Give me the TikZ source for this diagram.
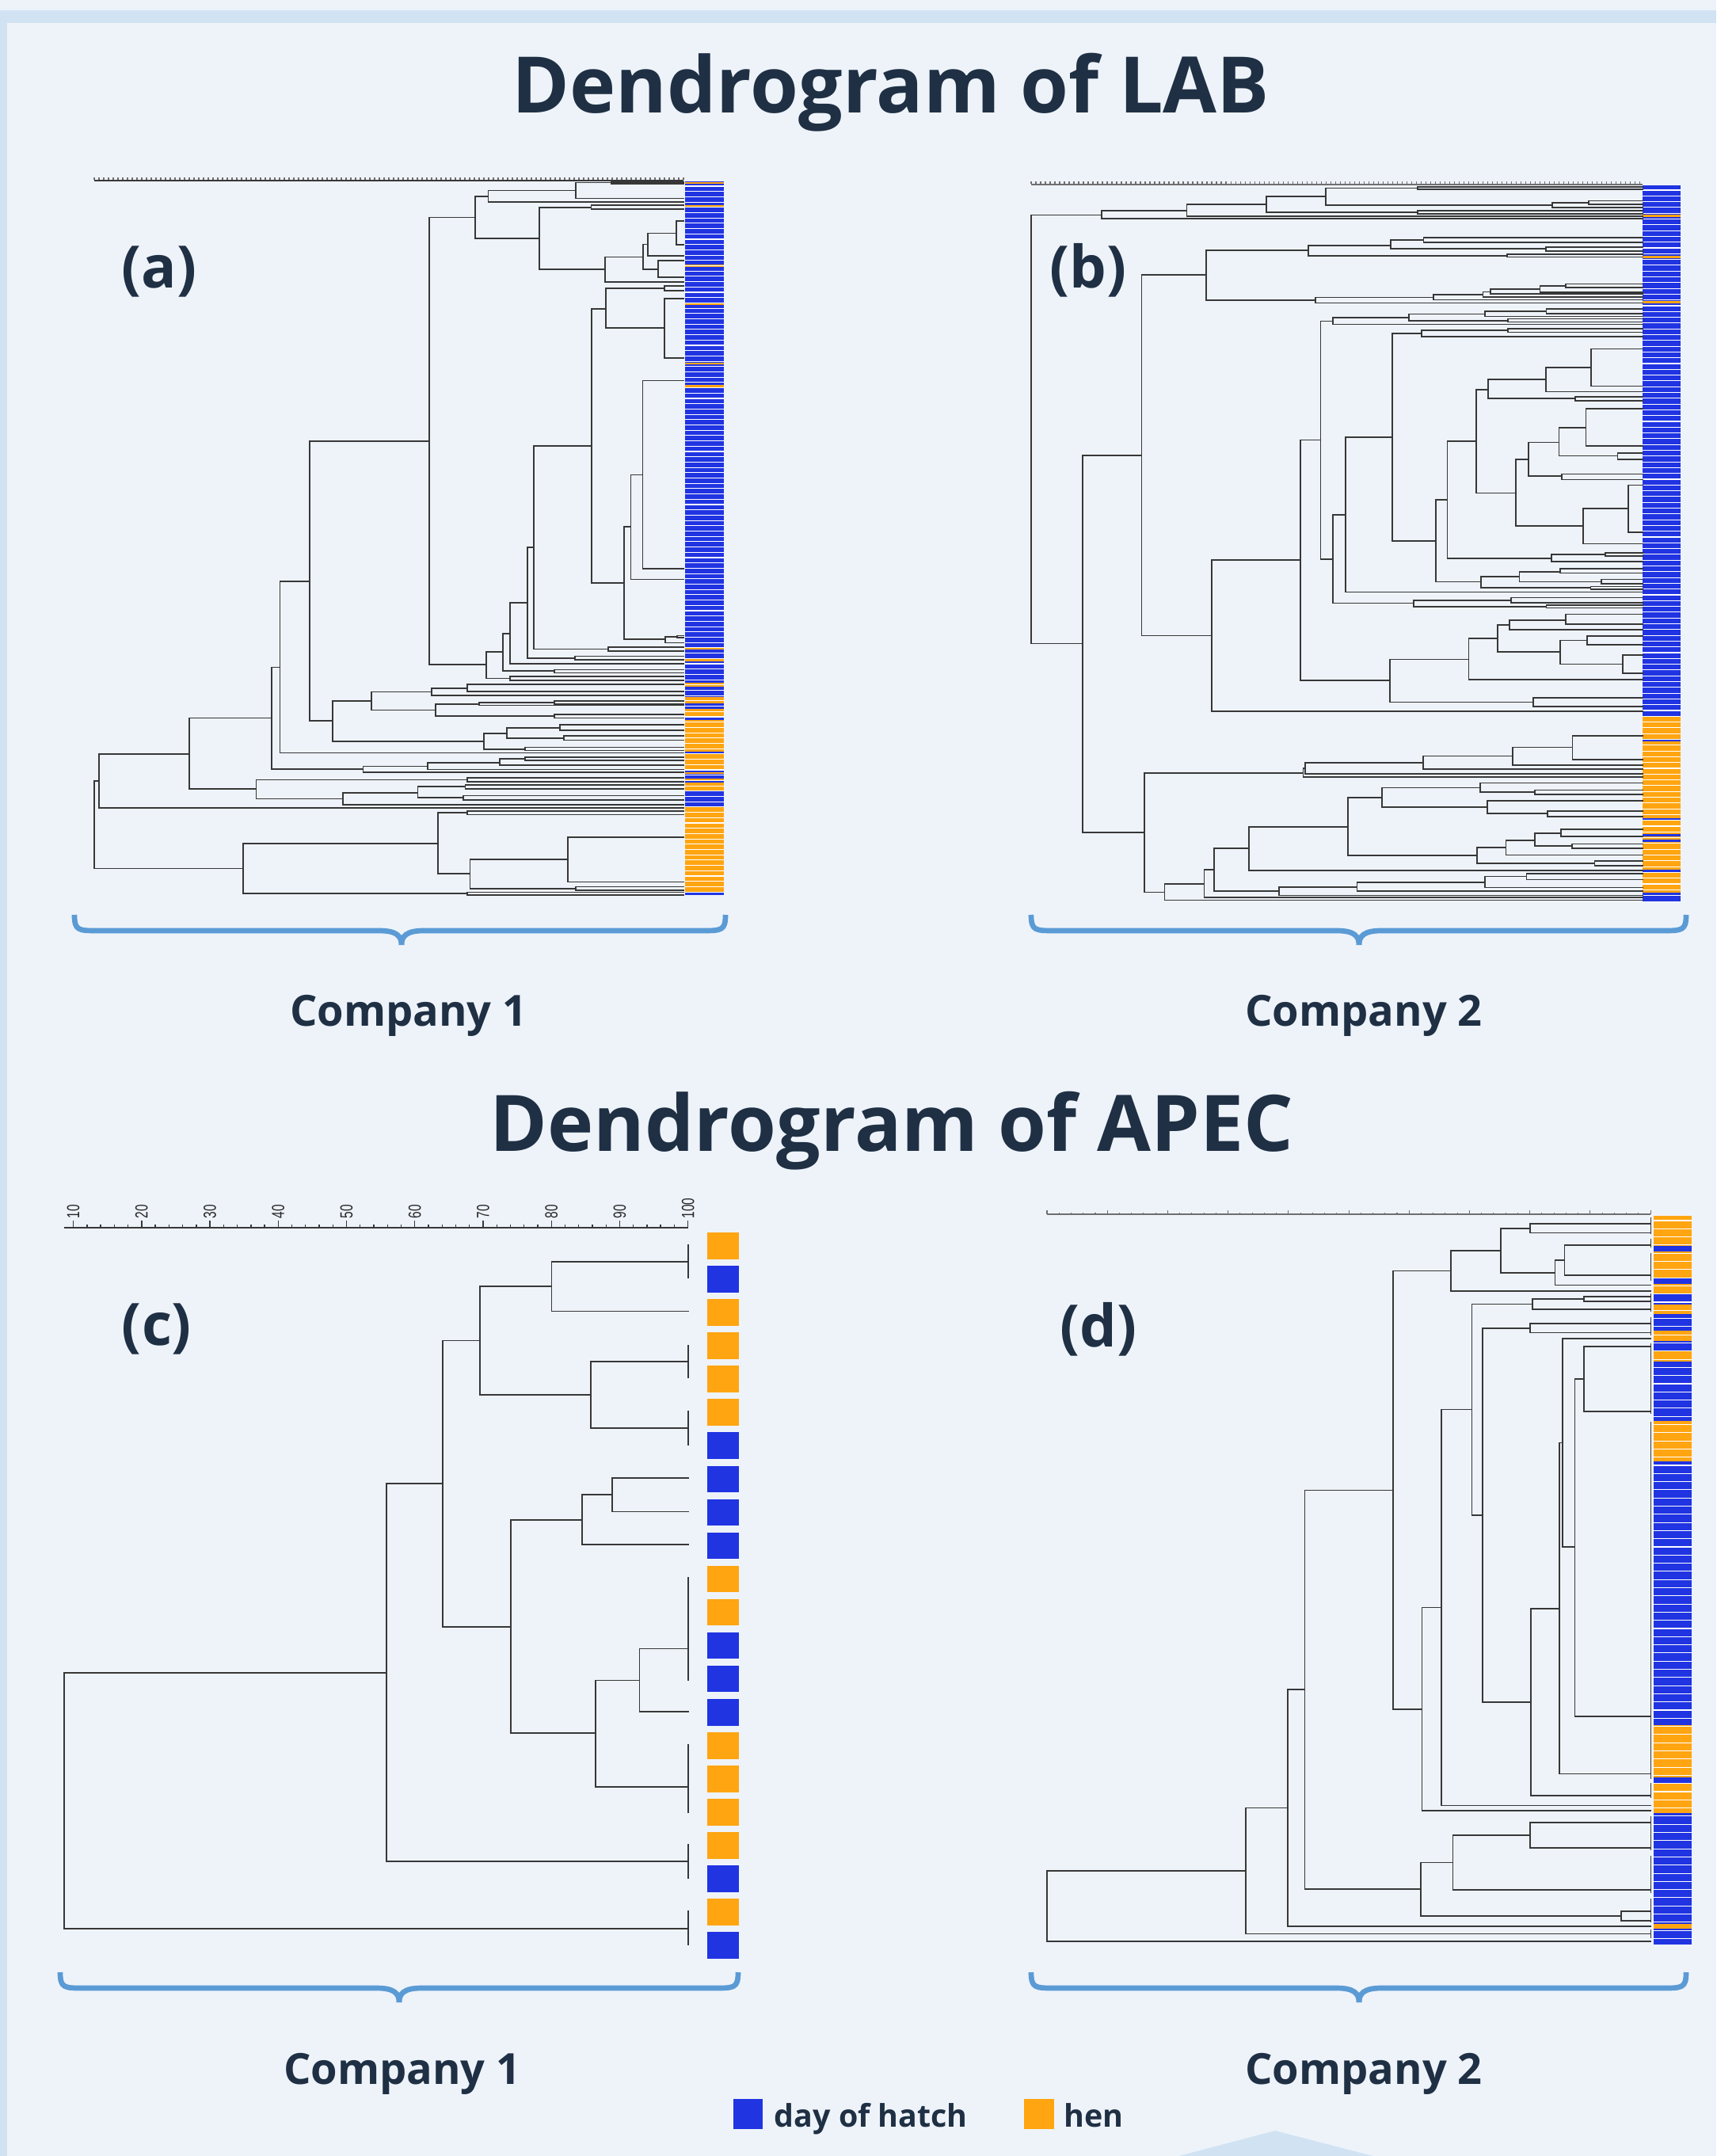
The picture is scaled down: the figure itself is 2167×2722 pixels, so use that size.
\documentclass[tikz,border=0pt]{standalone}
\usepackage{graphicx}
\usepackage{fontspec}
\setmainfont{Open Sans}
\newfontfamily\axisfont{Liberation Sans}
\definecolor{pagebg}{RGB}{238,243,250}
\definecolor{bandbg}{RGB}{209,227,243}
\definecolor{inkdark}{RGB}{31,48,68}
\definecolor{hatchblue}{RGB}{32,52,226}
\definecolor{henorange}{RGB}{255,165,17}
\definecolor{bracecol}{RGB}{91,155,213}
\definecolor{treeline}{RGB}{55,55,55}
\definecolor{axisgray}{RGB}{110,110,110}
\tikzset{
  dendro/.style={line width=0.5pt, draw=treeline, line cap=rect},
  axisline/.style={line width=0.6pt, draw=treeline},
  axtick/.style={line width=0.3pt, draw=axisgray},
  sep/.style={draw=white, line width=0.3pt},
  bracestyle/.style={draw=bracecol, line width=1.9pt},
  titletext/.style={font=\fontsize{28}{34}\selectfont\bfseries, text=inkdark, inner sep=0pt},
  paneltext/.style={font=\fontsize{21}{25}\selectfont\bfseries, text=inkdark, inner sep=0pt},
  companytext/.style={font=\fontsize{15.4}{18}\selectfont\bfseries, text=inkdark, inner sep=0pt},
  legendtext/.style={font=\fontsize{11.2}{13}\selectfont\bfseries, text=inkdark, inner sep=0pt},
  ticklabel/.style={font=\axisfont\fontsize{6.3}{7}\selectfont, text=black!85, inner sep=0pt},
}
\begin{document}
\begin{tikzpicture}[x=0.01cm, y=-0.01cm]
\useasboundingbox (0,0) rectangle (2167,2722);
% page background and frame bands
\fill[pagebg] (0,0) rectangle (2167,2722);
\fill[bandbg] (0,13) rectangle (2167,29);
\fill[bandbg] (0,13) rectangle (9,2722);
\fill[bandbg] (1488,2722) -- (1610,2690) -- (1734,2722) -- cycle;

% headings
\node[titletext, anchor=base] (titlelab) at (1125,143) {Dendrogram of LAB};
\node[titletext, anchor=base] (titleapec) at (1126,1453) {Dendrogram of APEC};
\node[paneltext, anchor=base] (pa) at (201,364) {(a)};
\node[paneltext, anchor=base] (pb) at (1374,364) {(b)};
\node[paneltext, anchor=base] (pc) at (198,1698) {(c)};
\node[paneltext, anchor=base] (pd) at (1387,1700) {(d)};
\node[companytext, anchor=base] (ca1) at (516,1295) {Company 1};
\node[companytext, anchor=base] (ca2) at (1722,1295) {Company 2};
\node[companytext, anchor=base] (cb1) at (508,2631) {Company 1};
\node[companytext, anchor=base] (cb2) at (1722,2631) {Company 2};

% legend
\fill[hatchblue] (926,2650) rectangle (963,2688);
\node[legendtext, anchor=base west] (lgday) at (977,2685) {day of hatch};
\fill[henorange] (1293,2650) rectangle (1331,2688);
\node[legendtext, anchor=base west] (lghen) at (1343,2685) {hen};

% braces under the panels
\foreach \L/\M/\R/\T in {94/507/916/1155, 1302/1716/2129/1155, 76/504/932/2490, 1302/1716/2129/2490}{
  \draw[bracestyle] (\L,\T) .. controls (\L,{\T+20}) and ({\L+5},{\T+20}) .. ({\L+30},{\T+20})
     -- ({\M-28},{\T+20}) .. controls ({\M-6},{\T+20}) and (\M,{\T+27}) .. (\M,{\T+38});
  \draw[bracestyle] (\R,\T) .. controls (\R,{\T+20}) and ({\R-5},{\T+20}) .. ({\R-30},{\T+20})
     -- ({\M+28},{\T+20}) .. controls ({\M+6},{\T+20}) and (\M,{\T+27}) .. (\M,{\T+38});
}

% ---------- panel (a): LAB, company 1 ----------
\draw[axisline] (119,228) -- (863,228);
\foreach \i in {0,...,124} \draw[axtick] ({119+6*\i},227) -- ++(0,-2.5);
\fill[hatchblue] (865,229) rectangle (914,1130);
\foreach \a/\b in {230/232, 259/262, 334.5/337, 382.5/385, 458/460.5, 486.5/489, 817.5/820, 832/835,
  862/867, 880/888, 895/906, 909/949, 952/973, 975/977, 983/985, 988/999, 1019/1127}
  \fill[henorange] (865,\a) rectangle (914,\b);
\foreach \y in {235,241.7,...,1128} \draw[sep] (865,\y) -- (914,\y);
\begin{scope}[shift={(100,220)}, xscale=0.5357, yscale=0.5867]
\foreach \y/\a/\b in {17/1255/1425, 20/1255/1425, 18/1171/1255, 52/1171/1425, 35/964/1171, 60/964/1425, 48/934/964,
 67/1207/1425, 75/1207/1425, 71/1085/1207,
 100/1408/1425, 152/1408/1425, 127/1340/1408, 175/1340/1425, 151/1329/1340, 186/1365/1425, 222/1365/1425, 205/1329/1365, 178/1240/1329, 232/1240/1425, 205/1085/1240, 138/934/1085, 93/825/934,
 240/1380/1425, 250/1380/1425, 245/1242/1380, 268/1380/1425, 395/1380/1425, 331/1242/1380, 290/1208/1242,
 444/1328/1425, 849/1328/1425, 647/1300/1328, 872/1300/1425, 759/1284/1300, 993/1410/1425, 997/1410/1425, 995/1382/1410, 1008/1382/1425, 1000/1284/1382, 880/1208/1284, 585/1071/1208,
 1018/1247/1425, 1026/1247/1425, 1022/1071/1247, 803/1056/1071, 1037/1168/1425, 1045/1168/1425, 1041/1056/1168,
 922/1016/1056, 1053/1016/1425, 988/998/1016, 1066/1120/1425, 1073/1120/1425, 1069/998/1120, 1028/960/998, 1080/1016/1425, 1089/1016/1425, 1085/960/1016, 1055/825/960, 575/543/825,
 1098/915/1425, 1113/915/1425, 1106/830/915, 1121/830/1425, 1114/689/830, 1133/1120/1425, 1140/1120/1425, 1137/942/1120, 1143/942/1425, 1140/840/942, 1162/1120/1425, 1170/1120/1425, 1166/840/1120, 1153/689/840, 1134/598/689,
 1185/1133/1425, 1197/1133/1425, 1192/1008/1133, 1208/1143/1425, 1218/1143/1425, 1214/1008/1143, 1203/954/1008, 1233/1051/1425, 1240/1051/1425, 1237/954/1051, 1220/598/954, 1176/543/598,
 876/473/543, 1245/473/1425, 1061/453/473,
 1255/1051/1425, 1261/1051/1425, 1258/991/1051, 1272/991/1425, 1266/822/991, 1281/822/1425, 1274/669/822, 1287/669/1425, 1280/453/669, 1170/260/453,
 1299/915/1425, 1307/915/1425, 1303/417/915, 1314/910/1425, 1322/910/1425, 1318/798/910, 1337/906/1425, 1346/906/1425, 1342/798/906, 1331/621/798, 1357/621/1425, 1344/417/621, 1323/260/417, 1248/46/260, 1363/46/1425, 1305/36/46, 1494/36/386,
 1370/915/1425, 1378/915/1425, 1374/846/915, 1427/1152/1425, 1523/1152/1425, 1474/921/1152, 1533/1170/1425, 1541/1170/1425, 1537/921/1170, 1505/846/921, 1440/386/846, 1545/915/1425, 1551/915/1425, 1548/386/915}
  \draw[dendro] (\a,\y) -- (\b,\y);
\foreach \x/\a/\b in {1255/17/20, 1171/18/52, 964/35/60, 934/48/138, 1207/67/75, 1085/71/205, 1408/100/152, 1340/127/175, 1329/151/205, 1365/186/222, 1240/178/232, 825/93/1055, 1380/240/250, 1242/245/331, 1380/268/395, 1208/290/880, 1328/444/849, 1300/647/872, 1284/759/1000, 1410/993/997, 1382/995/1008, 1071/585/1022, 1247/1018/1026, 1056/803/1041, 1168/1037/1045, 1016/922/1053, 998/988/1069, 1120/1066/1073, 960/1028/1085, 1016/1080/1089, 543/575/1176, 915/1098/1113, 830/1106/1121, 689/1114/1153, 1120/1133/1140, 942/1137/1143, 1120/1162/1170, 840/1140/1166, 598/1134/1220, 1133/1185/1197, 1143/1208/1218, 1008/1192/1214, 1051/1233/1240, 954/1203/1237, 473/876/1245, 453/1061/1280, 1051/1255/1261, 991/1258/1272, 822/1266/1281, 669/1274/1287, 260/1170/1323, 915/1299/1307, 910/1314/1322, 906/1337/1346, 798/1318/1342, 621/1331/1357, 417/1303/1344, 46/1248/1363, 36/1305/1494, 915/1370/1378, 1152/1427/1523, 1170/1533/1541, 921/1474/1537, 846/1374/1505, 915/1545/1551, 386/1440/1548}
  \draw[dendro] (\x,\a) -- (\x,\b);
\end{scope}

% ---------- panel (b): LAB, company 2 ----------
\draw[axisline, draw=axisgray] (1302,233) -- (2074,233);
\foreach \i in {0,...,128} \draw[axtick] ({1302+6*\i},232) -- ++(0,-2.5);
\fill[hatchblue] (2074,234) rectangle (2122,1138);
\foreach \a/\b in {271.5/274.5, 322.7/326, 379.6/383, 903.5/933, 936/1032.6, 1035.5/1053, 1056/1060, 1062.5/1098, 1101/1126.5}
  \fill[henorange] (2074,\a) rectangle (2122,\b);
\foreach \y in {240,247.3,...,1136} \draw[sep] (2074,\y) -- (2122,\y);
\begin{scope}[shift={(1290,220)}, xscale=0.5485, yscale=0.5867]
\foreach \y/\a/\b in {27/911/1430, 33/911/1430, 30/700/911, 67/700/1222, 61/1222/1305, 57/1305/1430, 65/1305/1430, 72/1222/1430, 48/563/700, 79/911/1430, 85/911/1430, 82/563/911, 65/380/563, 90/380/1430, 78/184/380, 96/184/1430, 88/22/184,
 137/925/1430, 147/925/1430, 142/849/925, 157/1207/1430, 165/1207/1430, 160/849/1207, 153/660/849, 172/1118/1430, 178/1118/1430, 175/660/1118, 164/425/660,
 236/1253/1430, 244/1253/1430, 240/1193/1253, 254/1193/1430, 247/1079/1193, 258/1079/1430, 253/1062/1079, 264/1062/1430, 259/948/1062, 270/948/1430, 265/677/948, 277/677/1430, 271/425/677, 216/276/425,
 290/1208/1430, 300/1208/1430, 295/1067/1208, 306/1067/1430, 301/891/1067, 311/1120/1430, 318/1120/1430, 315/891/1120, 308/716/891, 323/716/1430, 316/688/716,
 332/1120/1430, 340/1120/1430, 336/920/1120, 349/920/1430, 343/853/920,
 376/1311/1430, 456/1311/1430, 416/1207/1311, 468/1207/1430, 442/1074/1207, 479/1274/1430, 488/1274/1430, 483/1074/1274, 463/1047/1074,
 505/1299/1430, 585/1299/1430, 545/1237/1299, 600/1372/1430, 614/1372/1430, 606/1237/1372, 577/1167/1237, 645/1243/1430, 657/1243/1430, 650/1167/1243, 614/1137/1167, 669/1396/1430, 770/1396/1430, 719/1292/1396, 795/1292/1430, 757/1137/1292, 686/1047/1137, 575/980/1047,
 815/1343/1430, 821/1343/1430, 818/1219/1343, 834/1219/1430, 827/980/1219, 701/953/980,
 849/1240/1430, 858/1240/1430, 855/1146/1240, 872/1335/1430, 881/1335/1430, 877/1146/1335, 866/1058/1146, 887/1310/1430, 893/1310/1430, 890/1058/1310, 877/953/1058, 789/853/953, 566/745/853, 899/745/1430, 733/716/745,
 911/1127/1430, 922/1127/1430, 917/903/1127, 927/1208/1430, 933/1208/1430, 930/903/1208, 923/716/903, 828/688/716, 572/642/688,
 947/1253/1430, 968/1253/1430, 960/1123/1253, 980/1123/1430, 970/1096/1123, 994/1301/1430, 1012/1301/1430, 1003/1240/1301, 1034/1384/1430, 1074/1384/1430, 1054/1240/1384, 1028/1096/1240, 999/1029/1096, 1088/1029/1430, 1044/848/1029, 1127/1178/1430, 1145/1178/1430, 1136/848/1178, 1089/642/848, 830/438/642, 1155/438/1430, 993/276/438, 605/141/276, 1010/22/141,
 1208/1268/1430, 1259/1268/1430, 1233/1130/1268, 1272/1130/1430, 1252/924/1130, 1280/924/1430, 1267/652/924, 1290/652/1430, 1278/648/652, 1297/648/1430, 1288/283/648,
 1310/1056/1430, 1325/1182/1430, 1335/1182/1430, 1330/1056/1182, 1320/829/1056, 1348/1072/1430, 1370/1210/1430, 1382/1210/1430, 1376/1072/1210, 1362/829/1072, 1341/751/829,
 1410/1242/1430, 1425/1242/1430, 1418/1182/1242, 1441/1267/1430, 1451/1267/1430, 1446/1182/1267, 1434/1115/1182, 1465/1115/1430, 1449/1048/1115, 1478/1319/1430, 1488/1319/1430, 1483/1048/1319, 1466/751/1048, 1405/523/751, 1498/523/1430, 1451/443/523,
 1505/1162/1430, 1518/1162/1430, 1511/1067/1162, 1535/1067/1430, 1524/772/1067, 1543/772/1430, 1534/593/772, 1552/593/1430, 1543/443/593, 1497/420/443, 1556/420/1430, 1527/329/420, 1562/329/1430, 1545/283/329, 1416/141/283}
  \draw[dendro] (\a,\y) -- (\b,\y);
\foreach \x/\a/\b in {911/27/33, 700/30/67, 1305/57/65, 1222/61/72, 911/79/85, 563/48/82, 380/65/90, 184/78/96, 22/88/1010,
 925/137/147, 1207/157/165, 849/142/160, 1118/172/178, 660/153/175, 425/164/271,
 1253/236/244, 1193/240/254, 1079/247/258, 1062/253/264, 948/259/270, 677/265/277, 276/216/993,
 1208/290/300, 1067/295/306, 1120/311/318, 891/301/315, 716/308/323, 688/316/828,
 1120/332/340, 920/336/349, 853/343/789,
 1311/376/456, 1207/416/468, 1274/479/488, 1074/442/483, 1047/463/686,
 1299/505/585, 1372/600/614, 1237/545/606, 1243/645/657, 1167/577/650, 1396/669/770, 1292/719/795, 1137/614/757, 980/575/827, 1343/815/821, 1219/818/834, 953/701/877,
 1240/849/858, 1335/872/881, 1146/855/877, 1310/887/893, 1058/866/890, 745/566/899,
 1127/911/922, 1208/927/933, 903/917/930, 716/733/923, 642/572/1089,
 1253/947/968, 1123/960/980, 1301/994/1012, 1384/1034/1074, 1240/1003/1054, 1096/970/1028, 1178/1127/1145, 1029/999/1088, 848/1044/1136, 438/830/1155, 141/605/1416,
 1268/1208/1259, 1130/1233/1272, 924/1252/1280, 652/1267/1290, 648/1278/1297, 283/1288/1545,
 1182/1325/1335, 1056/1310/1330, 1210/1370/1382, 1072/1348/1376, 829/1320/1362, 751/1341/1466,
 1242/1410/1425, 1267/1441/1451, 1182/1418/1446, 1115/1434/1465, 1319/1478/1488, 1048/1449/1483, 523/1405/1498,
 1162/1505/1518, 1067/1511/1535, 772/1524/1543, 593/1534/1552, 443/1451/1543, 420/1497/1556, 329/1527/1562}
  \draw[dendro] (\x,\a) -- (\x,\b);
\end{scope}

% ---------- panel (c): APEC, company 1 ----------
\draw[axisline] (81,1550) -- (869,1550);
\foreach \i in {0,...,45} \draw[axisline, line width=0.4pt] ({92.6+17.246*\i},1550) -- ++(0,-4.5);
\foreach \i in {0,...,9} \draw[axisline, line width=0.4pt] ({92.6+86.23*\i},1550) -- ++(0,-9.5);
\foreach \v [count=\i from 0] in {10,20,30,40,50,60,70,80,90,100}
  \node[ticklabel, anchor=west, rotate=90] (tick\v) at ({92.6+86.23*\i},1539) {\scalebox{0.7}[1]{\v}};
\foreach \c [count=\i from 0] in {henorange,hatchblue,henorange,henorange,henorange,henorange,hatchblue,hatchblue,hatchblue,hatchblue,henorange,henorange,hatchblue,hatchblue,hatchblue,henorange,henorange,henorange,henorange,hatchblue,henorange,hatchblue}
  \fill[\c] (893,{1556+42.07*\i}) rectangle (933,{1589.5+42.07*\i});
\begin{scope}[shift={(60,1540)}, xscale=0.5612, yscale=0.5867]
\foreach \y/\a/\b in {90/1134/1441, 197/1134/1441, 143/973/1134, 305/1222/1441, 448/1222/1441, 377/973/1222, 260/889/973, 556/1271/1441, 628/1271/1441, 592/1203/1271, 699/1203/1441, 646/1042/1203, 923/1332/1441, 1058/1332/1441, 991/1233/1332, 1220/1233/1441, 1105/1042/1233, 876/889/1042, 568/762/889, 1381/762/1441, 975/38/762, 1525/38/1441}
  \draw[dendro] (\a,\y) -- (\b,\y);
\foreach \x/\a/\b in {1134/90/197, 1441/55/125, 1441/270/340, 1441/412/485, 1222/305/448, 973/143/377, 1271/556/628, 1203/592/699, 1441/770/990, 1332/923/1058, 1441/1130/1275, 1233/991/1220, 1042/646/1105, 889/260/876, 1441/1345/1417, 762/568/1381, 1441/1488/1560, 38/975/1525}
  \draw[dendro] (\x,\a) -- (\x,\b);
\end{scope}

% ---------- panel (d): APEC, company 2 ----------
\draw[axisline, draw=axisgray] (1322,1533) -- (2084,1533);
\foreach \i in {0,...,50} \draw[axtick] ({1322+15.24*\i},1533) -- ++(0,-2.5);
\foreach \i in {0,...,10} \draw[axtick] ({1322+76.2*\i},1533) -- ++(0,-5);
\fill[hatchblue] (2088,1535) rectangle (2136,2455);
\foreach \a/\b in {1535/1573, 1580/1613, 1621/1633, 1647/1659, 1680/1693, 1706/1719, 1794/1845, 2178/2244, 2251/2289, 2429/2435}
  \fill[henorange] (2088,\a) rectangle (2136,\b);
\foreach \y in {1541,1551.3,...,2452} \draw[sep] (2088,\y) -- (2136,\y);
\begin{scope}[shift={(1300,1520)}, xscale=0.5421, yscale=0.5995]
\foreach \y/\a/\b in {42/1166/1447, 61/1166/1447, 52/1098/1166, 87/1246/1447, 150/1246/1447, 119/1224/1246, 171/1224/1447, 145/1098/1224, 98/982/1098, 183/982/1447, 141/847/982,
 195/1291/1447, 205/1291/1447, 200/1171/1291, 222/1171/1447, 211/1030/1171,
 252/1166/1447, 271/1166/1447, 262/1055/1166,
 283/1242/1447, 300/1291/1447, 437/1291/1447, 368/1270/1291, 1079/1270/1447, 722/1242/1270, 503/1234/1242, 1200/1234/1447, 852/1167/1234, 1246/1167/1447, 1049/1055/1167, 655/1030/1055, 433/959/1030, 1267/959/1447, 850/914/959, 1278/914/1447, 1064/847/914, 603/641/847,
 1303/1166/1447, 1356/1166/1447, 1330/986/1166, 1444/986/1447, 1387/911/986, 1490/1378/1447, 1510/1378/1447, 1500/911/1378, 1443/641/911, 1023/601/641, 1521/601/1447, 1272/503/601, 1537/503/1447, 1405/40/503, 1553/40/1447}
  \draw[dendro] (\a,\y) -- (\b,\y);
\foreach \x/\a/\b in {1166/42/61, 1246/87/150, 1224/119/171, 1098/52/145, 982/98/183, 847/141/1064, 1291/195/205, 1171/200/222, 1030/211/655, 1166/252/271, 1055/262/1049, 1242/283/722, 1291/300/437, 1270/368/1079, 1234/503/1200, 1167/852/1246, 959/433/1267, 914/850/1278, 641/603/1443, 1166/1303/1356, 986/1330/1444, 1378/1490/1510, 911/1387/1500, 601/1023/1521, 503/1272/1537, 40/1405/1553,
 1447/30/62, 1447/75/90, 1447/105/160, 1447/190/225, 1447/240/275, 1447/295/440, 1447/460/1210, 1447/1220/1250, 1447/1290/1360, 1447/1375/1450, 1447/1465/1512, 1447/1530/1545}
  \draw[dendro] (\x,\a) -- (\x,\b);
\end{scope}
\end{tikzpicture}
\end{document}
